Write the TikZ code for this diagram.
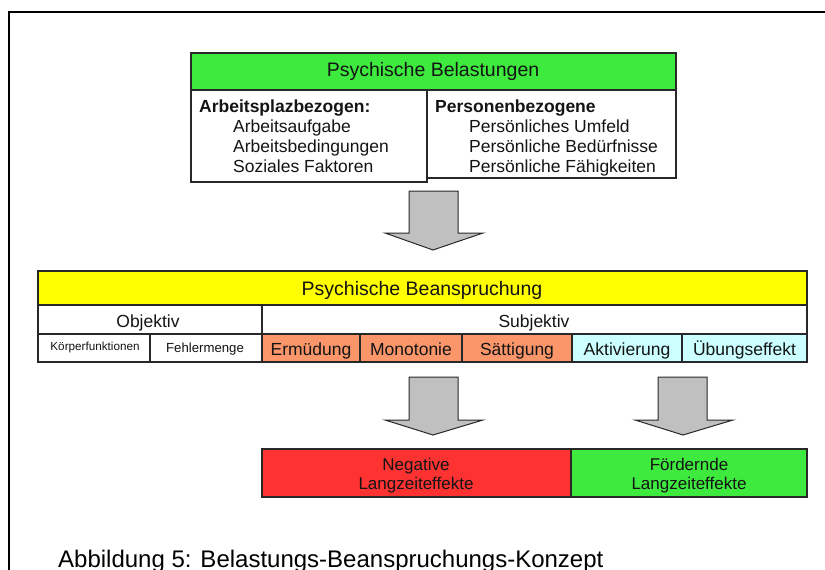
\documentclass[tikz,border=0pt]{standalone}
\usepackage{fontspec}
\setmainfont{Liberation Sans}
\definecolor{grn}{RGB}{62,234,62}
\definecolor{yel}{RGB}{255,255,0}
\definecolor{orng}{RGB}{250,150,105}
\definecolor{lcyan}{RGB}{204,255,255}
\definecolor{rd}{RGB}{255,50,50}
\definecolor{arrgray}{RGB}{192,192,192}
\definecolor{linec}{RGB}{40,40,40}
\definecolor{txt}{RGB}{20,20,20}
\begin{document}
\begin{tikzpicture}[x=1pt,y=-1pt,
  cell/.style={draw=linec, line width=1.1pt, rectangle, inner sep=0pt, outer sep=0pt, anchor=north west},
  tbig/.style={font=\fontsize{19.5}{22}\selectfont, text=txt, inner sep=0pt, anchor=base},
  tmid/.style={font=\fontsize{17.5}{20}\selectfont, text=txt, inner sep=0pt, anchor=base},
  tleft/.style={font=\fontsize{17.5}{20}\selectfont, text=txt, inner sep=0pt, anchor=base west},
  tboldleft/.style={font=\fontsize{17.5}{20}\selectfont\bfseries, text=txt, inner sep=0pt, anchor=base west},
  blockarrow/.style={draw=linec, fill=arrgray, line width=1pt, line join=miter}
]
\useasboundingbox (0,0) rectangle (825,570);
\fill[white] (0,0) rectangle (825,570);
% outer frame
\draw[black, line width=1.3pt] (9,570) -- (9,12) -- (825,12);

% Psychische Belastungen
\node[cell, fill=white, minimum width=249pt, minimum height=88pt] (belR) at (427,90) {};
\node[cell, fill=white, minimum width=236pt, minimum height=92pt] (belL) at (191,90) {};
\node[cell, fill=grn, minimum width=485pt, minimum height=37pt] (belH) at (191,53) {};
\node[tbig] (belT) at (433,76) {Psychische Belastungen};
\node[tboldleft] (arbT) at (199,112) {Arbeitsplazbezogen:};
\node[tleft] (arb1) at (233,132) {Arbeitsaufgabe};
\node[tleft] (arb2) at (233,152) {Arbeitsbedingungen};
\node[tleft] (arb3) at (233,172) {Soziales Faktoren};
\node[tboldleft] (perT) at (435,112) {Personenbezogene};
\node[tleft] (per1) at (469,132) {Persönliches Umfeld};
\node[tleft] (per2) at (469,152) {Persönliche Bedürfnisse};
\node[tleft] (per3) at (469,172) {Persönliche Fähigkeiten};

% arrow 1
\filldraw[blockarrow] (409,191) -- (458,191) -- (458,233) -- (483,233) -- (433,250) -- (385,233) -- (409,233) -- cycle;

% Psychische Beanspruchung
\node[cell, fill=yel, minimum width=769pt, minimum height=34pt] (beaH) at (38,271) {};
\node[tbig] (beaT) at (422,295) {Psychische Beanspruchung};
\node[cell, fill=white, minimum width=224pt, minimum height=29pt] (objC) at (38,305) {};
\node[cell, fill=white, minimum width=545pt, minimum height=29pt] (subC) at (262,305) {};
\node[tmid] (objT) at (148,327) {Objektiv};
\node[tmid] (subT) at (534,327) {Subjektiv};

\node[cell, fill=white, minimum width=112pt, minimum height=28pt] (koeC) at (38,334) {};
\node[cell, fill=white, minimum width=112pt, minimum height=28pt] (fehC) at (150,334) {};
\node[cell, fill=orng, minimum width=98pt, minimum height=28pt] (ermC) at (262,334) {};
\node[cell, fill=orng, minimum width=102pt, minimum height=28pt] (monC) at (360,334) {};
\node[cell, fill=orng, minimum width=110pt, minimum height=28pt] (saeC) at (462,334) {};
\node[cell, fill=lcyan, minimum width=110pt, minimum height=28pt] (aktC) at (572,334) {};
\node[cell, fill=lcyan, minimum width=125pt, minimum height=28pt] (uebC) at (682,334) {};

\node[tmid, font=\fontsize{11.7}{13}\selectfont] (koeT) at (95,350) {Körperfunktionen};
\node[tmid, font=\fontsize{13.2}{15}\selectfont] (fehT) at (205,352) {Fehlermenge};
\node[tmid] (ermT) at (311,355) {Ermüdung};
\node[tmid] (monT) at (411,355) {Monotonie};
\node[tmid] (saeT) at (517,355) {Sättigung};
\node[tmid] (aktT) at (627,355) {Aktivierung};
\node[tmid] (uebT) at (744.5,355) {Übungseffekt};

% arrows 2 and 3
\filldraw[blockarrow] (409,377) -- (458,377) -- (458,420) -- (483,420) -- (433,435) -- (385,420) -- (409,420) -- cycle;
\filldraw[blockarrow] (658,377) -- (707,377) -- (707,420) -- (733,420) -- (683,435) -- (635,420) -- (658,420) -- cycle;

% Langzeiteffekte
\node[cell, fill=rd, minimum width=309pt, minimum height=48pt] (negC) at (262,449) {};
\node[cell, fill=grn, minimum width=236pt, minimum height=48pt] (foeC) at (571,449) {};
\node[tmid, font=\fontsize{17}{19}\selectfont] (neg1) at (416,470) {Negative};
\node[tmid, font=\fontsize{17}{19}\selectfont] (neg2) at (416,489) {Langzeiteffekte};
\node[tmid, font=\fontsize{17}{19}\selectfont] (foe1) at (689,470) {Fördernde};
\node[tmid, font=\fontsize{17}{19}\selectfont] (foe2) at (689,489) {Langzeiteffekte};

% caption
\node[tleft, font=\fontsize{24}{28}\selectfont, text=black] (cap) at (58,567) {Abbildung 5: Belastungs-Beanspruchungs-Konzept};
\end{tikzpicture}
\end{document}
